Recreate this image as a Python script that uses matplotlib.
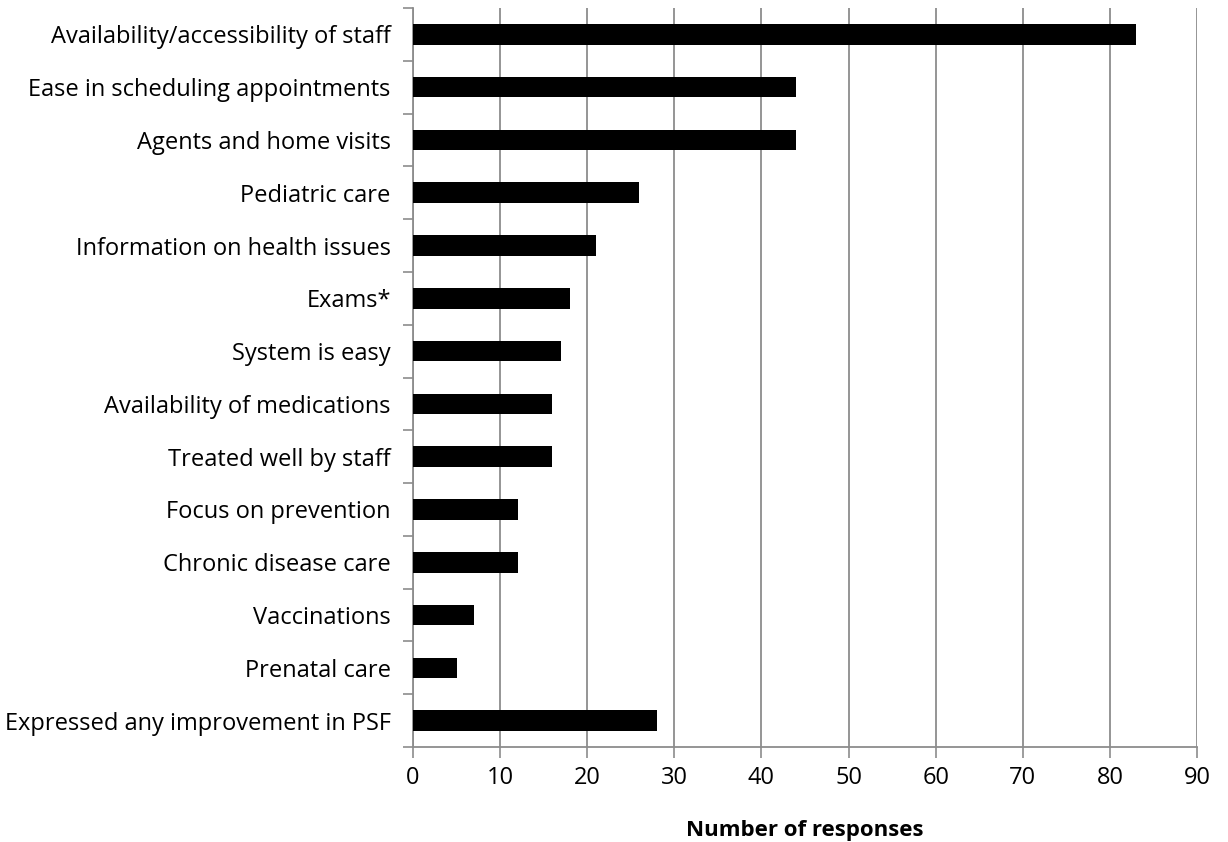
import matplotlib
matplotlib.use("Agg")
import matplotlib.pyplot as plt
import numpy as np

categories = [
    "Availability/accessibility of staff",
    "Ease in scheduling appointments",
    "Agents and home visits",
    "Pediatric care",
    "Information on health issues",
    "Exams*",
    "System is easy",
    "Availability of medications",
    "Treated well by staff",
    "Focus on prevention",
    "Chronic disease care",
    "Vaccinations",
    "Prenatal care",
    "Expressed any improvement in PSF",
]
values = [83, 44, 44, 26, 21, 18, 17, 16, 16, 12, 12, 7, 5, 28]
x_ticks = [0, 10, 20, 30, 40, 50, 60, 70, 80, 90]
x_label = "Number of responses"

plt.rcParams['font.family'] = ['Open Sans', 'DejaVu Sans']

fig = plt.figure(figsize=(12.28, 8.42), dpi=100)
ax = fig.add_axes([0.3363, 0.1128, 0.9748 - 0.3363, 0.9905 - 0.1128])

grid_col = "#8c8c8c"
y = np.arange(len(categories))
ax.barh(y, values, height=0.39, color="black", zorder=3)

ax.set_ylim(len(categories) - 0.5, -0.5)
ax.set_xlim(0, 90)
ax.set_xticks(x_ticks)
ax.set_xticklabels([str(t) for t in x_ticks], fontsize=17)
ax.set_yticks(y)
ax.set_yticklabels(categories, fontsize=17)
ax.set_yticks(np.arange(len(categories) + 1) - 0.5, minor=True)

ax.tick_params(axis='y', which='major', length=0, pad=16)
ax.tick_params(axis='y', which='minor', length=7, width=1.2, color=grid_col, direction='out')
ax.tick_params(axis='x', which='major', length=8, width=1.2, color=grid_col, direction='out', pad=6)

ax.xaxis.grid(True, color=grid_col, linewidth=1.3, zorder=0)
ax.set_axisbelow(True)
for s in ['top', 'right']:
    ax.spines[s].set_visible(False)
for s in ['left', 'bottom']:
    ax.spines[s].set_color(grid_col)
    ax.spines[s].set_linewidth(1.3)

ax.set_xlabel(x_label, fontsize=16, fontweight='bold', labelpad=21)

fig.savefig("out.png", dpi=100)
